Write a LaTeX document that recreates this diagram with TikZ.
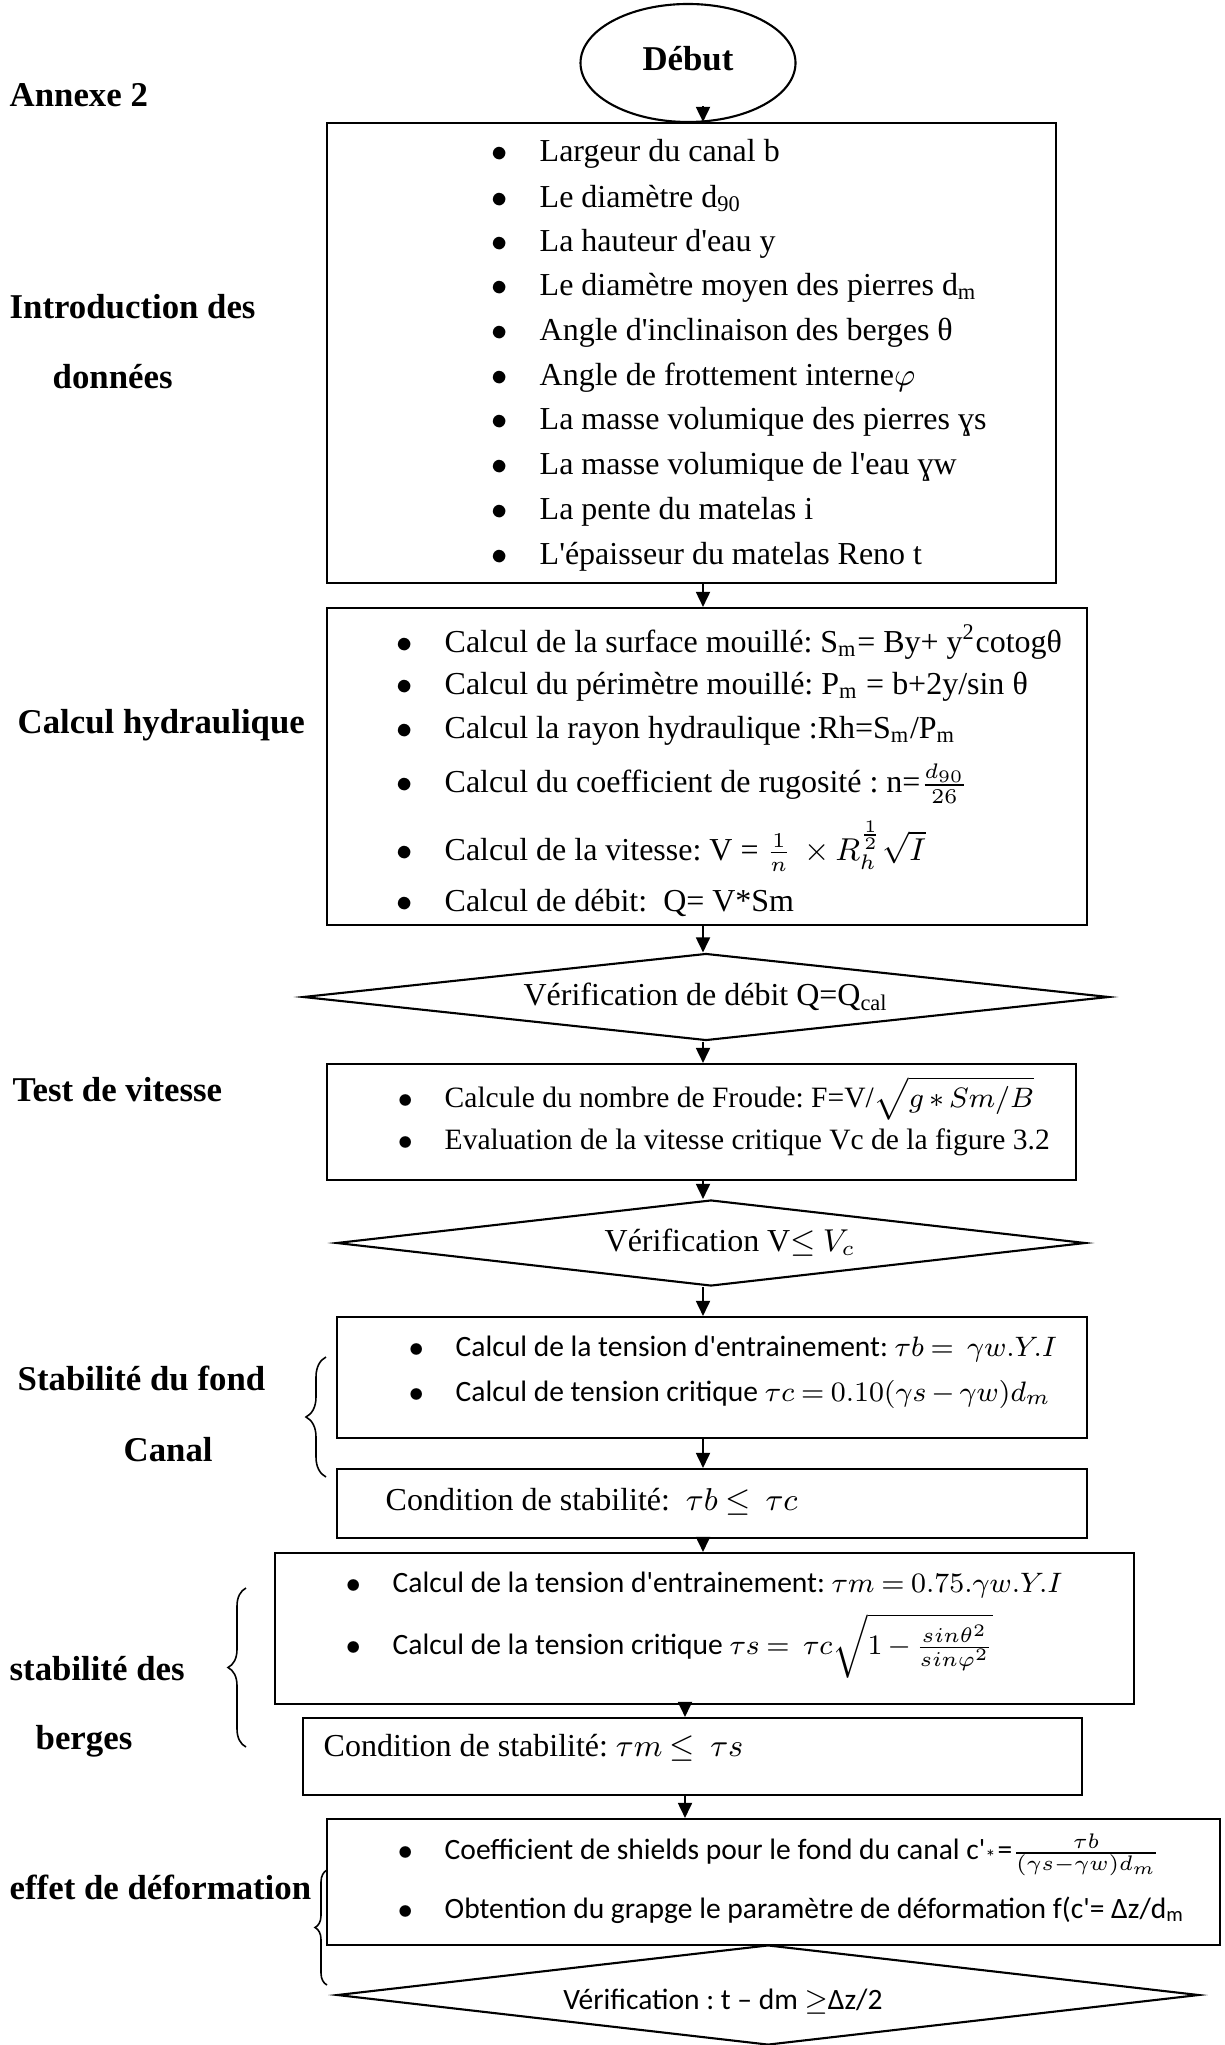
\documentclass[tikz,border=0pt]{standalone}
\usepackage{fontspec}
\setmainfont{Liberation Serif}[Ligatures=TeXOff]
\newfontfamily\calibri{Carlito}[Ligatures=TeXOff]
\usetikzlibrary{arrows.meta,positioning,shapes.geometric,decorations.pathreplacing}

\newcommand{\itm}{\llap{$\bullet$\hspace{0.32cm}}}
\frenchspacing
\thickmuskip=4mu plus 2mu
\medmuskip=3mu plus 1mu

\begin{document}
\begin{tikzpicture}[every node/.style={font=\fontsize{9.1}{11}\selectfont}]
\tikzstyle{blk}=[draw, line width=0.6pt, inner sep=0pt]
\tikzstyle{dia}=[draw, line width=0.6pt, diamond, aspect=9, inner sep=0pt]
\tikzstyle{item}=[anchor=west, inner sep=0pt]
\tikzstyle{small}=[item, font=\fontsize{8.4}{10}\selectfont]
\tikzstyle{cal}=[item, font=\fontsize{8.4}{10}\selectfont\calibri]
\tikzstyle{lbl}=[anchor=west, inner sep=0pt, font=\fontsize{9.9}{12}\selectfont\bfseries]
\tikzstyle{arr}=[-{Triangle[length=0.15cm,width=0.14cm]}, line width=0.5pt]
\tikzstyle{brc}=[decorate, line width=0.45pt]
\useasboundingbox (0,0) rectangle (12.24,-20.45);

% left column
\node[lbl] (annexe) at (0.09,-0.95) {Annexe 2};
\node[lbl] (intro1) at (0.09,-3.07) {Introduction des};
\node[lbl] (intro2) at (0.52,-3.77) {données};
\node[lbl] (hyd) at (0.17,-7.25) {Calcul hydraulique};
\node[lbl] (test) at (0.12,-10.90) {Test de vitesse};
\node[lbl] (stab1) at (0.17,-13.78) {Stabilité du fond};
\node[lbl] (stab2) at (1.23,-14.50) {Canal};
\node[lbl] (berg1) at (0.09,-16.69) {stabilité des};
\node[lbl] (berg2) at (0.35,-17.41) {berges};
\node[lbl] (effet) at (0.09,-18.87) {effet de déformation};

% start
\node[draw, ellipse, line width=0.6pt, minimum width=2.15cm, minimum height=1.18cm,
  font=\fontsize{9.9}{12}\selectfont\bfseries] (debut) at (6.88,-0.63) {\raisebox{0.1cm}{Début}};

% input data
\node[blk, minimum width=7.29cm, minimum height=4.60cm] (donnees) at (6.915,-3.53) {};
\foreach \t [count=\i] in {Largeur du canal b, Le diamètre d\textsubscript{90},
  La hauteur d'eau y, Le diamètre moyen des pierres d\textsubscript{m},
  Angle d'inclinaison des berges θ, Angle de frottement interne$\varphi$,
  La masse volumique des pierres ɣs, La masse volumique de l'eau ɣw,
  La pente du matelas i, L'épaisseur du matelas Reno t}
  \node[item] (d\i) at (5.39,{-1.54-0.447*(\i-1)}) {\itm\t};

% hydraulics
\node[blk, minimum width=7.60cm, minimum height=3.17cm] (hydro) at (7.07,-7.665) {};
\node[item] (h1) at (4.44,-6.42) {\itm Calcul de la surface mouillé: S\textsubscript{m}= By+ y\textsuperscript{2}cotogθ};
\node[item] (h2) at (4.44,-6.87) {\itm Calcul du périmètre mouillé: P\textsubscript{m} = b+2y/sin θ};
\node[item] (h3) at (4.44,-7.31) {\itm Calcul la rayon hydraulique :Rh=S\textsubscript{m}/P\textsubscript{m}};
\node[item] (h4) at (4.44,-7.84) {\itm Calcul du coefficient de rugosité : n=$\frac{d_{90}}{26}$};
\node[item] (h5) at (4.44,-8.46) {\itm Calcul de la vitesse: V = $\frac{1}{n}\ \times R_h^{\frac{1}{2}}\sqrt{I}$};
\node[item] (h6) at (4.44,-9.03) {\itm Calcul de débit:\ \ Q= V*Sm};

\node[dia, minimum width=8.06cm, minimum height=0.87cm] (verifQ) at (7.06,-9.97)
  {Vérification de débit Q=Q\textsubscript{cal}};

% velocity test
\node[blk, minimum width=7.49cm, minimum height=1.16cm] (froude) at (7.015,-11.22) {};
\node[small] (f1) at (4.44,-10.98) {\itm Calcule du nombre de Froude: F=V/$\sqrt{g*Sm/B}$};
\node[small] (f2) at (4.44,-11.42) {\itm Evaluation de la vitesse critique Vc de la figure 3.2};

\node[dia, minimum width=7.49cm, minimum height=0.86cm] (verifV) at (7.11,-12.43)
  {\hspace*{0.38cm}Vérification V$\leq V_c$};

% bed stability
\node[blk, minimum width=7.50cm, minimum height=1.21cm] (fond) at (7.12,-13.775) {};
\node[cal] (s1) at (4.55,-13.49) {\itm Calcul de la tension d'entrainement: $\tau b =\ \gamma w.Y.I$};
\node[cal] (s2) at (4.55,-13.94) {\itm Calcul de tension critique $\tau c = 0.10(\gamma s - \gamma w)d_m$};
\node[blk, minimum width=7.50cm, minimum height=0.69cm] (condfond) at (7.12,-15.035) {};
\node[item] (c1) at (3.85,-15.02) {Condition de stabilité:\ \ $\tau b \leq\ \tau c$};

% bank stability
\node[blk, minimum width=8.59cm, minimum height=1.51cm] (berg) at (7.045,-16.285) {};
\node[cal] (b1) at (3.92,-15.85) {\itm Calcul de la tension d'entrainement: $\tau m = 0.75.\gamma w.Y.I$};
\node[cal] (b2) at (3.92,-16.46) {\itm Calcul de la tension critique $\tau s =\ \tau c\sqrt{1-\frac{sin\theta^2}{sin\varphi^2}}$};
\node[blk, minimum width=7.79cm, minimum height=0.77cm] (condberg) at (6.925,-17.565) {};
\node[item] (c2) at (3.23,-17.48) {Condition de stabilité: $\tau m \leq\ \tau s$};

% deformation
\node[blk, minimum width=8.93cm, minimum height=1.26cm] (deform) at (7.735,-18.82) {};
\node[cal] (e1) at (4.44,-18.55) {\itm Coefficient de shields pour le fond du canal c'\textsubscript{*}=$\frac{\tau b}{(\gamma s-\gamma w)d_m}$};
\node[cal] (e2) at (4.44,-19.10) {\itm Obtention du grapge le paramètre de déformation f(c'= Δz/d\textsubscript{m}};

\node[dia, minimum width=8.62cm, minimum height=1.00cm] (verifT) at (7.68,-19.95) {};
\node[cal, anchor=center] (verifTtxt) at (7.23,-20.02) {Vérification : t – dm $\geq$Δz/2};

% flow arrows
\coordinate (axe) at (7.03,0);
\coordinate (axe2) at (6.85,0);
\draw[arr] ([yshift=0.17cm]debut.south -| axe) -- (donnees.north -| axe);
\draw[arr] (donnees.south -| axe) -- (hydro.north -| axe);
\draw[arr] (hydro.south -| axe) -- (verifQ.north -| axe);
\draw[arr] (verifQ.south -| axe) -- (froude.north -| axe);
\draw[arr] (froude.south -| axe) -- (verifV.north -| axe);
\draw[arr] (verifV.south -| axe) -- (fond.north -| axe);
\draw[arr] (fond.south -| axe) -- (condfond.north -| axe);
\draw[arr] (condfond.south -| axe) -- (berg.north -| axe);
\draw[arr] (berg.south -| axe2) -- (condberg.north -| axe2);
\draw[arr] (condberg.south -| axe2) -- (deform.north -| axe2);

% braces
\draw[brc, decoration={brace, amplitude=0.2cm}] (3.26,-14.77) -- (3.26,-13.57);
\draw[brc, decoration={brace, amplitude=0.18cm}] (2.46,-17.47) -- (2.46,-15.88);
\draw[brc, decoration={brace, amplitude=0.12cm}] (3.27,-19.85) -- (3.27,-18.70);
\end{tikzpicture}
\end{document}
